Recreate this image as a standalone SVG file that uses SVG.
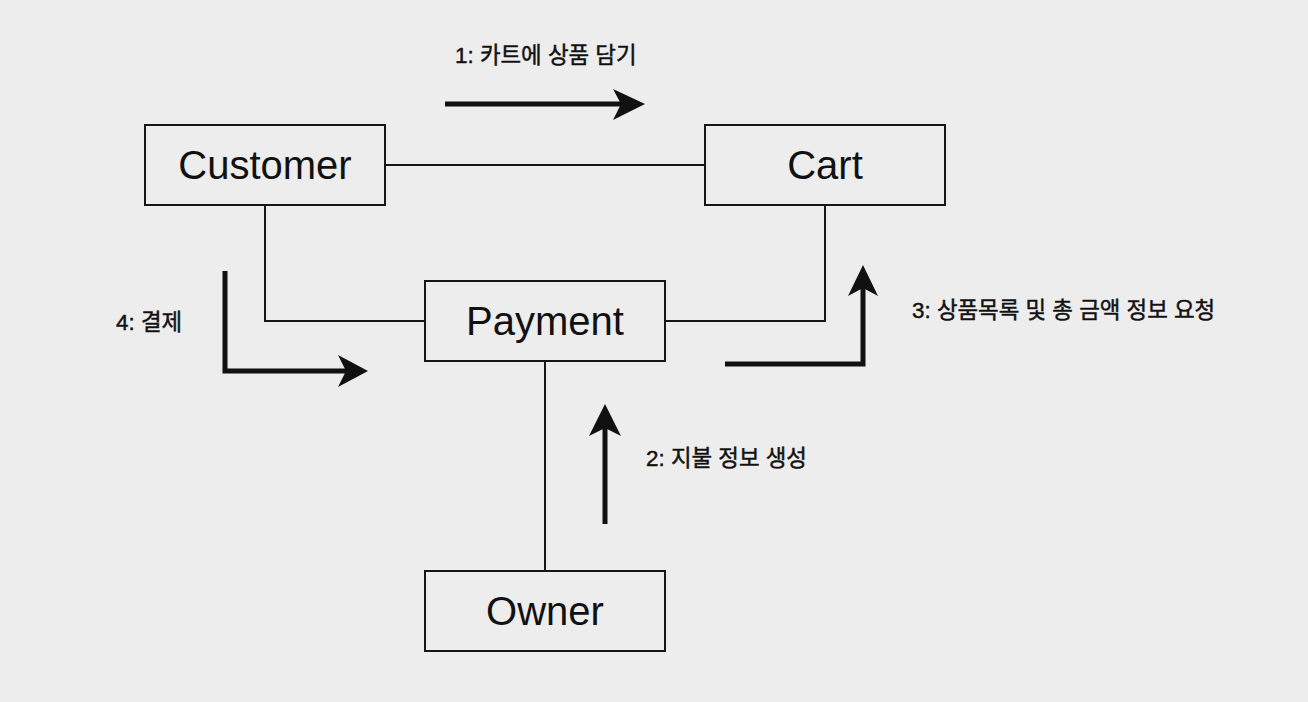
<svg xmlns="http://www.w3.org/2000/svg" width="1308" height="702" viewBox="0 0 1308 702">
<style>
.box{fill:#ededed;stroke:#161616;stroke-width:2}
.nl{font-family:"Liberation Sans","Noto Sans CJK KR",sans-serif;font-size:40px;fill:#111;text-anchor:middle}
.lbl{font-family:"Liberation Sans","Noto Sans CJK KR",sans-serif;font-size:22.4px;fill:#111;stroke:#111;stroke-width:0.45}
.conn{fill:none;stroke:#161616;stroke-width:2}
.thick{fill:none;stroke:#111;stroke-width:5}
.head{fill:#111}
</style>
<rect width="1308" height="702" fill="#ededed"/>
<g id="connectors">
<path class="conn" d="M385,165 H705"/>
<path class="conn" d="M265,205 V321 H425"/>
<path class="conn" d="M825,205 V321 H665"/>
<path class="conn" d="M545,361 V571"/>
</g>
<g id="arrows">
<path class="thick" d="M445,104 H622"/>
<polygon class="head" points="645,104 613,89 621,104 613,120"/>
<path class="thick" d="M225,271 V371 H346"/>
<polygon class="head" points="368,371 338,355 346,371 338,387"/>
<path class="thick" d="M725,364 H863 V288"/>
<polygon class="head" points="863,265 848,296 863,288 878,296"/>
<path class="thick" d="M605,524 V428"/>
<polygon class="head" points="605,404 589,436 605,428 621,436"/>
</g>
<g id="labels">
<text class="lbl" x="455" y="63">1: 카트에 상품 담기</text>
<text class="lbl" x="116" y="330">4: 결제</text>
<text class="lbl" x="912" y="318">3: 상품목록 및 총 금액 정보 요청</text>
<text class="lbl" x="646" y="466">2: 지불 정보 생성</text>
</g>
<g id="customer"><rect class="box" x="145" y="125" width="240" height="80"/><text class="nl" x="265" y="179">Customer</text></g>
<g id="cart"><rect class="box" x="705" y="125" width="240" height="80"/><text class="nl" x="825" y="179">Cart</text></g>
<g id="payment"><rect class="box" x="425" y="281" width="240" height="80"/><text class="nl" x="545" y="335">Payment</text></g>
<g id="owner"><rect class="box" x="425" y="571" width="240" height="80"/><text class="nl" x="545" y="625">Owner</text></g>
</svg>
